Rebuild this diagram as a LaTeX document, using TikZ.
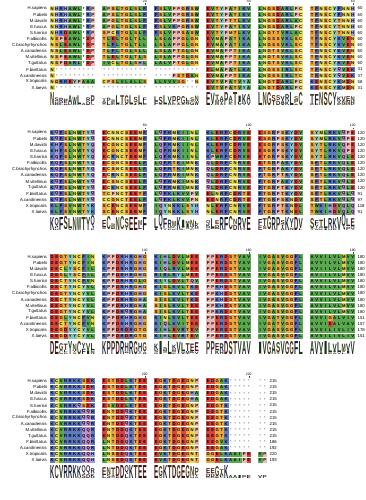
\documentclass[tikz,border=0pt]{standalone}
\usepackage{fontspec}
\setsansfont{Liberation Sans}
\usepackage{graphicx}
\definecolor{cGreen}{HTML}{5AA84E}
\definecolor{cBlue}{HTML}{5E7BC2}
\definecolor{cRed}{HTML}{D6453E}
\definecolor{cYellow}{HTML}{E8D850}
\definecolor{cOrange}{HTML}{EEA540}
\definecolor{cPink}{HTML}{EDB8B2}
\definecolor{cLav}{HTML}{9A9CDA}
\definecolor{cSlate}{HTML}{5564AC}
\definecolor{cCyan}{HTML}{82C8C2}
\definecolor{cPurple}{HTML}{BC90CC}
\definecolor{cOlive}{HTML}{E2CE55}
\def\mapcol#1#2{\expandafter\def\csname rc#1\endcsname{#2}}
\mapcol A{cGreen}\mapcol V{cGreen}\mapcol L{cGreen}\mapcol I{cGreen}\mapcol W{cGreen}
\mapcol M{cOlive}\mapcol K{cBlue}\mapcol R{cBlue}\mapcol D{cRed}\mapcol E{cRed}
\mapcol C{cYellow}\mapcol N{cYellow}\mapcol S{cOrange}\mapcol T{cOrange}\mapcol G{cOrange}
\mapcol P{cPink}\mapcol H{cLav}\mapcol F{cSlate}\mapcol Y{cCyan}\mapcol Q{cPurple}
\mapcol -{white}\mapcol *{white}
\newcount\colidx \newcount\grp \newcount\inn
\def\cw{4.5}\def\gp{52}\def\xs{50}\def\rowsp{6.1}\def\logoH{13}
\def\residue#1{%
  \global\advance\colidx by 1
  \grp=\colidx \advance\grp by -1 \divide\grp by 10
  \inn=\colidx \advance\inn by -1 \advance\inn by -\numexpr10*\grp\relax
  \pgfmathsetmacro\cx{\xs+\gp*\the\grp+\cw*\the\inn}%
  \edef\curcol{\csname rc#1\endcsname}%
  \fill[fill=\curcol] (\cx,\curY-2.65) rectangle (\cx+\cw,\curY+2.65);
  \node[reslbl] at (\cx+\cw/2,\curY+0.1) {#1};
  \xdef\lastx{\cx}%
  \if#1-\else\if#1*\else
    \ifcsname cnt@\blk @\the\colidx @#1\endcsname
      \expandafter\xdef\csname cnt@\blk @\the\colidx @#1\endcsname{\the\numexpr\csname cnt@\blk @\the\colidx @#1\endcsname+1\relax}%
    \else
      \expandafter\xdef\csname cnt@\blk @\the\colidx @#1\endcsname{1}%
    \fi
    \ifcsname ng@\blk @\the\colidx\endcsname
      \expandafter\xdef\csname ng@\blk @\the\colidx\endcsname{\the\numexpr\csname ng@\blk @\the\colidx\endcsname+1\relax}%
    \else
      \expandafter\xdef\csname ng@\blk @\the\colidx\endcsname{1}%
    \fi
  \fi\fi
}
\def\parseseq#1{\ifx#1\relax\else\residue{#1}\expandafter\parseseq\fi}
\newcommand\seqrow[4]{%
  \pgfmathsetmacro\curY{\blkY+\rowsp*#1}%
  \node[namelbl] (n\blk r#1) at (47,\curY) {#2};
  \global\colidx=0
  \parseseq#3\relax
  \node[numlbl] (e\blk r#1) at (\lastx+\cw+2.5,\curY) {#4};
}
\newcommand\setblock[2]{\xdef\blk{#1}\pgfmathsetmacro\blkY{8.5+124.2*(#1-1)}\xdef\blkY{\blkY}}
\newcommand\ruler[2]{% column in block, label
  \pgfmathtruncatemacro\g{(#1-1)/10}%
  \pgfmathsetmacro\rx{\xs+\gp*\g+\cw*(#1-1-10*\g)+\cw/2}%
  \draw[tickline] (\rx,\blkY-5.2) -- (\rx,\blkY-3.3);
  \node[rulelbl] (t\blk c#1) at (\rx,\blkY-7.0) {#2};
}
\def\AAlist{A,C,D,E,F,G,H,I,K,L,M,N,P,Q,R,S,T,V,W,Y}
\newcommand\drawlogo[1]{%
  \pgfmathsetmacro\logoY{\blkY+97.5}%
  \foreach \c in {1,...,#1}{%
    \pgfmathtruncatemacro\g{(\c-1)/10}%
    \pgfmathsetmacro\lx{\xs+\gp*\g+\cw*(\c-1-10*\g)}%
    \edef\ng{\ifcsname ng@\blk @\c\endcsname\csname ng@\blk @\c\endcsname\else0\fi}%
    \ifnum\ng>0
      \gdef\Hent{0}%
      \foreach \L in \AAlist {%
        \ifcsname cnt@\blk @\c @\L\endcsname
          \pgfmathsetmacro\ff{\csname cnt@\blk @\c @\L\endcsname/\ng}%
          \pgfmathsetmacro\tmp{\Hent-\ff*ln(\ff)/ln(2)}\xdef\Hent{\tmp}%
        \fi}%
      \pgfmathsetmacro\colscale{max(0,4.3219-0.8*\Hent)/4.3219*\logoH*(0.1+0.9*\ng/14)}%
      \xdef\colscale{\colscale}%
      \gdef\stackh{0}%
      \foreach \n in {1,...,\ng}{%
        \foreach \L in \AAlist {%
          \ifcsname cnt@\blk @\c @\L\endcsname
            \ifnum\csname cnt@\blk @\c @\L\endcsname=\n\relax
              \pgfmathsetmacro\hh{\colscale*\n/\ng}%
              \ifdim\hh pt>0.45pt
                \edef\lc{\csname rc\L\endcsname}%
                \node[anchor=south,inner sep=0pt,text=\lc!30!black] at (\lx+\cw/2,\logoY-\stackh) {\resizebox{4.2pt}{\hh pt}{\sffamily\bfseries\L}};
              \fi
              \pgfmathsetmacro\tmp{\stackh+\hh}\xdef\stackh{\tmp}%
            \fi
          \fi}}%
    \fi
  }%
}
\begin{document}
\begin{tikzpicture}[x=1pt,y=-1pt,
  namelbl/.style={anchor=east,inner sep=0pt,font=\sffamily\fontsize{4.3}{5}\selectfont},
  numlbl/.style={anchor=west,inner sep=0pt,font=\sffamily\fontsize{4.3}{5}\selectfont},
  reslbl/.style={inner sep=0pt,font=\sffamily\bfseries\fontsize{4.2}{5}\selectfont},
  rulelbl/.style={inner sep=0pt,font=\sffamily\fontsize{3.4}{4}\selectfont},
  tickline/.style={line width=0.3pt,draw=black!70}]
\useasboundingbox[fill=white] (0,0) rectangle (366,500);
% ---------------- block 1
\setblock{1}{}
\ruler{20}{20}\ruler{40}{40}\ruler{60}{60}
\seqrow{0}{H.sapiens}{NHRHAWL*RP APSLTGLSLF FSLVPPGRSW EVTYPATIKV LNGSDARLPC TFNSCYFNNH}{60}
\seqrow{1}{P.abelii}{NHRHAWL*RP APSLTGLSLF FSLVPPGRSW EVTYPATIKV LNGSDARLPC TFNSCYFNNH}{60}
\seqrow{2}{M.davidii}{NHRHAWL*RP APGLTGLSLF FSLVPPGRSW EVTYPTTLKV LNGSDARLAC TFNSCYTNNH}{60}
\seqrow{3}{E.fuscus}{NHRHAWL*RP APGLTGLSLF FSLVKPGRSW EVTYPATIKV LNGSDARLPC TFNSCYTNNH}{60}
\seqrow{4}{S.harrisii}{NHRDAWL*RP SPCRTGLSLF FSLVPPSASW EVTYPMTLKV LNGTTVRLAC TFNSCYTNNH}{60}
\seqrow{5}{F.albicollis}{NSPEAWL*DP TLELTGLTLL LSLAPPGLGN EVMAPATIKA LNGSSVKLSC TFNSCYKVEN}{60}
\seqrow{6}{C.brachyrhynchos}{NSLEAWL*DP TLFLTGLTLL LSLAPPGLGN EVMAPATIKA LNGSSVKLSC TFNSCYKVEN}{60}
\seqrow{7}{A.canadensis}{NSLEAWL*DP TLFLTGLSLL LSLAPTGLGN EVMAPPTIKA LNGTSVKLSC TFNSCYKVEN}{60}
\seqrow{8}{M.vitellinus}{NSPEAWL*DP TLELTGLTLS LSLAPPGLGN EVMAPPTIKA LNGTSVKLSC TFNSCYKVEN}{60}
\seqrow{9}{T.guttatus}{NSPDARL*DP IVCLTGLSHL LALVPTGLGN EVMAPPTIKA LNGTSVKLSC TFNSCYKVEN}{60}
\seqrow{10}{F.bivittatus}{N--------- ---------- ---------- ELMAPATLKA LNGSSIRLSC TFNSCYQVEK}{31}
\seqrow{11}{A.carolinensis}{N--------- ---------- ----PSTDAN EVMAPPTIKA LNGSSIRLTC TFNSCYQVEK}{37}
\seqrow{12}{X.tropicalis}{NGRREYPAAA CPSLVLALLS LLVVVSG--N EVTVPATVYA LNGTDARLPC KENSCYKMDN}{58}
\seqrow{13}{X.laevis}{N--------- ---------- ---------- EVTVPATVYA LNGTDARLPC KENSCYKMDN}{31}
\drawlogo{60}
% ---------------- block 2
\setblock{2}{}
\ruler{20}{80}\ruler{40}{100}\ruler{60}{120}
\seqrow{0}{H.sapiens}{KQFSLNWTYQ ECNNCSEEMF LQFRMKIINL KLERFCDRVE ESGRPSKYDV SYMLRKVQPE}{120}
\seqrow{1}{P.abelii}{KQFSLNWTYQ ECNNCSEEMF LQFRMKIINL KLERFCDRVE ESGRPSKYDV SYMLRKVQPE}{120}
\seqrow{2}{M.davidii}{KHFSLNWTYQ ECGNCSEEMF LQFRMKIINL KLERFCDRVE ESGRPSKYDV SYTLRKVQPE}{120}
\seqrow{3}{E.fuscus}{KHFSLNWTYQ ECGNCSEEMF LQFRMKIINL KLERFCDRVE ESGRPSKYDV SYTLRKVQPE}{120}
\seqrow{4}{S.harrisii}{KQFSLNWTYQ ECRNCTEEMF LQFRMKIINL KPWRFCDRVE ETGRPSKYDV SYTLRKVQLE}{120}
\seqrow{5}{F.albicollis}{KQFSLNWTYQ ECGNCSEELF LQFRTKIMNK QLDRFCNRVE ETGRPAKYDV SFTLRKVQLE}{120}
\seqrow{6}{C.brachyrhynchos}{KQFSLNWTYQ ECSNCSEELF LQFRTKIMNK QLDRFCNRVE FTGRPAKYDV SFTLRKVQLE}{120}
\seqrow{7}{A.canadensis}{KQFSLNWTYQ ECRNCSEELF LQFRMKIMNK QLDRFCNRVE FTGRPTKYDV SFTLRKVQLE}{120}
\seqrow{8}{M.vitellinus}{KQFSLNWTYQ ECSNCSEELF LQFRMKIMNK QLDRFCNRVE FTGRPAKYDV SFTLRKVQLE}{120}
\seqrow{9}{T.guttatus}{KQFSLNWTYQ ECKNCSEELF LQFRMKIMNK QLDRFCNRVE FTGRPTKYDV SFTLRKVQLE}{120}
\seqrow{10}{F.bivittatus}{KQFSLNWTYQ TCPNCTEETF LQFKLKVVPV ELNRFCDRTE FTGRPTKYDV SFTLRKVQLQ}{91}
\seqrow{11}{A.carolinensis}{KQFSLNWTYQ CCGNCTEELF LQFKLKVVPN EENRFCDRTE FTGRPSKNDV SFTLRKVQLQ}{97}
\seqrow{12}{X.tropicalis}{KLFSVNWTYK SCENCSEEMF IQYNKKLSYH NLERFCNRVE FTGRPTKNDL TWKIHDVQLQ}{118}
\seqrow{13}{X.laevis}{KLFSVNWTYK SCENCSEEMF IQYNKKLSYH NLERFCNRVE FTGRPTKNDL TWKIHDVQLQ}{91}
\drawlogo{60}
% ---------------- block 3
\setblock{3}{}
\ruler{20}{140}\ruler{40}{160}\ruler{60}{180}
\seqrow{0}{H.sapiens}{DEGTYNCFIN KPPDRHRGHG KIHLDVLMEE PPERDSTVAV IVGASVGGFL AVVILVLMVV}{180}
\seqrow{1}{P.abelii}{DEGTYNCFIN KPPDRHRGHG KIHLDVLMEE PPERDSTVAV IVGASVGGFL AVVILVLMVV}{180}
\seqrow{2}{M.davidii}{DECLYSCFIL KPPDRHRGHG RIQLRVLMEE PPERDSTVAV IVGASVGGFL AVIILVLMVV}{180}
\seqrow{3}{E.fuscus}{DEGLYSCFIL KPPDRHRGHG RIRLRYLMEE PPERDSTVAV VVGASVGGFL AVIILVLMVV}{180}
\seqrow{4}{S.harrisii}{DECTYNCFVN KPPDRHRGLG KIYLDVLTQV PPERDSTVAV IVGASVGGFL AVVILVLMVV}{180}
\seqrow{5}{F.albicollis}{DECTYNCYVL KPPDRHRGHG KIGLKVLTKE PPKHDSTVAV IVGASVGGFL AVVILVLMVV}{180}
\seqrow{6}{C.brachyrhynchos}{DEGTYNCYVL KPPDRHRGHG KISLKVLTKE PPKHDSTVAV IVGASVGGFL AVVILVLMVV}{180}
\seqrow{7}{A.canadensis}{DECTYNCYVL KPPDRHRGHA SISLKVLTKE PPKHDSTVAV IVGASVGGFL AVVILVLMVV}{180}
\seqrow{8}{M.vitellinus}{DEGTYNCYVL KPPDRHRGHA SISLKVLTEE PPKHDSTVAV IVGASVGGFL AVVILVLMVV}{180}
\seqrow{9}{T.guttatus}{DEGTYNCYVL KPPDRQRGHA SISLKVLTEE PPKRDSTVAV IVGASVGGFL AVVILVLMVV}{180}
\seqrow{10}{F.bivittatus}{DEGLYNCFVN KPPDRHRGHG KINLKVLTEE PPERDSTVAV IVGATVGGFL AVVIGALVIV}{151}
\seqrow{11}{A.carolinensis}{DECTYNCFVN KPPDRHRGHG KIQLKVITEE PPERDSTVAV IVGATVGGFL AVVIEALVAV}{157}
\seqrow{12}{X.tropicalis}{DEGDYYCYVL KPPDRDRGTG KIHLEVRTEV PPERDSTVAV IVGASVGGFL AVVILIVLIV}{178}
\seqrow{13}{X.laevis}{DEGDYYCYVL KPPDRDRGTG KIHLEVRTEV PPERDSTVAV IVGASVGGFL AVVILIVLIV}{151}
\drawlogo{60}
% ---------------- block 4
\setblock{4}{}
\ruler{20}{200}\ruler{40}{220}
\seqrow{0}{H.sapiens}{KCVRRKKSDK ESTDDLKTEE EGKTDGEGNP EDGAK----- --}{215}
\seqrow{1}{P.abelii}{KCVRRKKSDK ESTDDLKTEE EGKTDGEGNP EDGAK----- --}{215}
\seqrow{2}{M.davidii}{KCVRRKKSDK ESTDDLKTEE EGKTDGEGHA EDGAK----- --}{215}
\seqrow{3}{E.fuscus}{KCVRRKKSDK ESTDDLKTEE EGKTDGEGHA EDGAK----- --}{215}
\seqrow{4}{S.harrisii}{KCVRRKQSDK ESVDDLKTEE EGKTDGEGNP EDGTK----- --}{215}
\seqrow{5}{F.albicollis}{KCVRRKKQQR ENTDDQKTEE EGKTDGEGNP DEGTK----- --}{215}
\seqrow{6}{C.brachyrhynchos}{KCVRRKKQQR ENTDDQKTEE EGKTDGEGNP DEGTK----- --}{215}
\seqrow{7}{A.canadensis}{KCVRRKKQQR ENTDDQKTEE EGKTDGEGNP DEGTK----- --}{215}
\seqrow{8}{M.vitellinus}{KCVRRKKQQR ENTDDQKTEE EGKTDGEGNP DEGTK----- --}{215}
\seqrow{9}{T.guttatus}{KCVRRKKQQR ENTDDQKTEE EGKTDGEGNP DEGTK----- --}{215}
\seqrow{10}{F.bivittatus}{KCVRRKKQQR LNTDDQKTEE EGKTDGEGNP EEGVK----- --}{186}
\seqrow{11}{A.carolinensis}{KCVRRKKQQR LNTDDQKTEE EGKTDGEGNP EEGAK----- --}{192}
\seqrow{12}{X.tropicalis}{KCVRRKKQQH LNSEDQKTEE EVKTDGEGNT GGELKAAIPE VP}{220}
\seqrow{13}{X.laevis}{KCVRRKKQQH LNSEDQKTEE EVKTDGEGNT GGELKAAIPE VP}{193}
\drawlogo{52}
\end{tikzpicture}
\end{document}
